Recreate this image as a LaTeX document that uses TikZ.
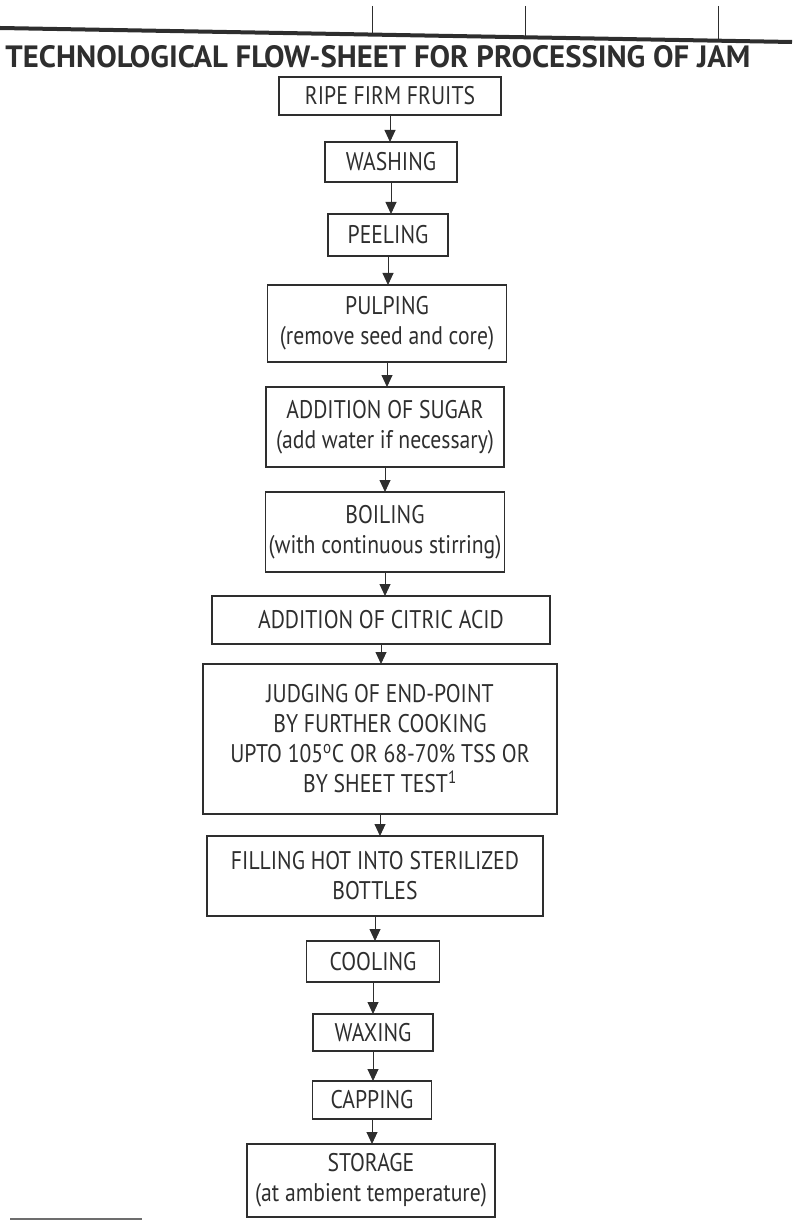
\documentclass[tikz,border=0pt]{standalone}
\usepackage{graphicx}
\usepackage{fontspec}
\setmainfont{PT Sans}[FakeStretch=0.85]
\usepackage{tikz}
\definecolor{ink}{gray}{0.18}
\tikzset{font=\fontsize{25.5}{30}\selectfont}
\usetikzlibrary{positioning,arrows.meta}

\begin{document}
\begin{tikzpicture}[x=1pt, y=-1pt, node distance=27pt]
		\tikzstyle{stepbox} = [rectangle, draw=ink, text=ink, line width=1.4pt, align=center, inner sep=0pt, outer sep=0pt];
		\tikzstyle{flow} = [draw=ink, line width=0.9pt, -{Triangle[width=11pt,length=12pt]}];
		\tikzstyle{rule} = [draw=ink, line width=4pt];
		
		\useasboundingbox (0,0) rectangle (792,1222);
		
		% page rules of the scan
		\draw[rule] (0,28) -- (792,42);
		\foreach \x in {372,525,718}
			\draw[ink, line width=1pt] (\x,6) -- (\x,{28+14*\x/792});
		\draw[ink!70, line width=2.5pt] (10,1219) -- (142,1219);
		
		\node[text=ink](title) at (378,57){\resizebox{745pt}{22pt}{\bfseries TECHNOLOGICAL FLOW-SHEET FOR PROCESSING OF JAM}};
		
		\node[stepbox, minimum width=222pt, minimum height=38pt](ripe) at (390,96){RIPE FIRM FRUITS};
		\node[stepbox, minimum width=132pt, minimum height=40pt, below = of ripe, xshift=1pt](washing){WASHING};
		\node[stepbox, minimum width=120pt, minimum height=42pt, below = 32pt of washing, xshift=-3pt](peeling){PEELING};
		\node[stepbox, minimum width=239pt, minimum height=77pt, below = 29pt of peeling, xshift=-1pt](pulping){PULPING \\ (remove seed and core)};
		\node[stepbox, minimum width=238pt, minimum height=80pt, below = 25pt of pulping, xshift=-2pt](sugar){ADDITION OF SUGAR \\ (add water if necessary)};
		\node[stepbox, minimum width=239pt, minimum height=80pt, below = 25pt of sugar](boiling){BOILING \\ (with continuous stirring)};
		\node[stepbox, minimum width=338pt, minimum height=48pt, below = 24pt of boiling, xshift=-4pt](citric){ADDITION OF CITRIC ACID};
		\node[stepbox, minimum width=354pt, minimum height=150pt, below = 20pt of citric, xshift=-1pt](endpoint){JUDGING OF END-POINT \\ BY FURTHER COOKING \\ UPTO 105\textsuperscript{o}C OR 68-70\% TSS OR \\ BY SHEET TEST\textsuperscript{1}};
		\node[stepbox, minimum width=336pt, minimum height=80pt, below = 22pt of endpoint, xshift=-5pt](filling){FILLING HOT INTO STERILIZED \\ BOTTLES};
		\node[stepbox, minimum width=133pt, minimum height=41pt, below = 25pt of filling, xshift=-2pt](cooling){COOLING};
		\node[stepbox, minimum width=120pt, minimum height=37pt, below = 32pt of cooling](waxing){WAXING};
		\node[stepbox, minimum width=119pt, minimum height=38pt, below = 30pt of waxing, xshift=-1pt](capping){CAPPING};
		\node[stepbox, minimum width=248pt, minimum height=73pt, below = 25pt of capping, xshift=-1pt](storage){STORAGE \\ (at ambient temperature)};
		
		\foreach \a/\b in {ripe/washing, washing/peeling, peeling/pulping, pulping/sugar, sugar/boiling, boiling/citric, citric/endpoint, endpoint/filling, filling/cooling, cooling/waxing, waxing/capping, capping/storage}
			\draw[flow] (\a.south) -- (\a.south |- \b.north);
\end{tikzpicture}
\end{document}
